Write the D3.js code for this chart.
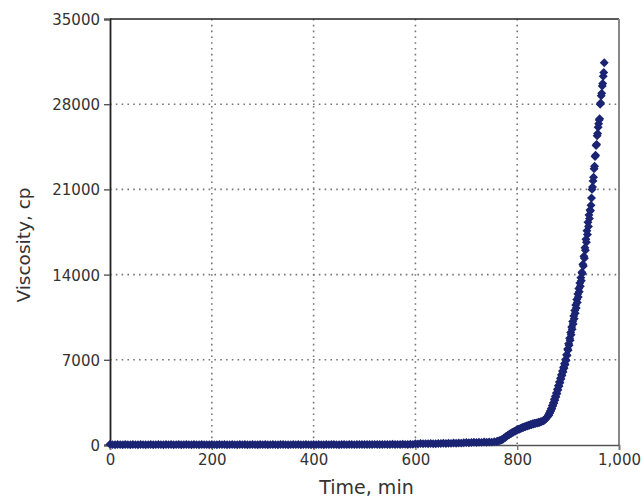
<!DOCTYPE html>
<html>
<head>
<meta charset="utf-8">
<script src="https://cdnjs.cloudflare.com/ajax/libs/d3/7.8.5/d3.min.js"></script>
<style>
  html, body { margin: 0; padding: 0; background: #fff; }
  svg { display: block; }
  text { font-family: "DejaVu Sans", Verdana, sans-serif; }
</style>
</head>
<body>
<svg id="chart" width="642" height="499"></svg>
<script>
// Cure test: viscosity (cp) logged against elapsed time (min)
const timeMin = [
  0,5,10,15,20,25,30,35,40,45,50,55,60,65,70,75,80,85,90,95,
  100,105,110,115,120,125,130,135,140,145,150,155,160,165,170,175,180,185,190,195,
  200,205,210,215,220,225,230,235,240,245,250,255,260,265,270,275,280,285,290,295,
  300,305,310,315,320,325,330,335,340,345,350,355,360,365,370,375,380,385,390,395,
  400,405,410,415,420,425,430,435,440,445,450,455,460,465,470,475,480,485,490,495,
  500,505,510,515,520,525,530,535,540,545,550,555,560,565,570,575,580,585,590,595,
  600,605,610,615,620,625,630,635,640,645,650,655,660,665,670,675,680,685,690,695,
  700,705,710,715,720,725,730,735,740,745,750,755,760,
  762,764,766,768,770,772,774,776,778,780,782,784,786,788,790,792,794,796,798,800,
  802,804,806,808,810,812,814,816,818,820,822,824,826,828,830,832,834,836,838,840,
  842,844,846,848,850,852,854,856,858,860,
  861,862,863,864,865,866,867,868,869,870,871,872,873,874,875,876,877,878,879,880,
  881,882,883,884,885,886,887,888,889,890,891,892,893,894,895,896,897,898,899,900,
  901,902,903,904,905,906,907,908,909,910,911,912,913,914,915,916,917,918,919,920,
  921,922,923,924,925,926,927,928,929,930,931,932,933,934,935,936,937,938,939,940,
  941,942,943,944,945,946,947,948,949,950,951,952,953,954,955,956,957,958,959,960,
  961,962,963,964,965,966,967,968,969,970,971
];

const viscosityCp = [
  60,30,25,35,30,20,35,30,25,40,30,25,35,30,20,30,35,25,30,40,
  30,25,35,30,40,25,30,35,20,30,35,30,25,40,30,25,35,30,30,25,
  35,30,25,40,30,35,25,30,35,30,20,35,30,40,25,30,35,30,25,35,
  30,40,25,30,35,30,25,35,40,30,25,30,35,30,40,25,30,35,30,25,
  35,30,40,30,25,35,30,40,35,30,25,40,35,30,45,35,30,40,35,45,
  40,35,45,40,50,35,45,40,50,45,40,55,45,50,40,55,50,45,55,50,
  110,90,120,100,115,95,125,110,105,130,120,140,125,150,135,160,145,170,155,180,
  200,185,210,220,205,230,215,240,225,250,235,260,280,
  320,330,380,390,450,480,570,600,700,730,820,840,930,940,1030,1040,1120,1130,1210,1230,
  1290,1290,1360,1370,1440,1440,1510,1500,1570,1560,1630,1620,1690,1670,1740,1720,1780,1760,1820,1810,
  1870,1850,1910,1920,1980,2000,2080,2130,2250,2350,
  2450,2450,2600,2620,2800,2800,3000,2980,3250,3200,3480,3430,3750,3680,4000,3940,4280,4210,4580,4520,
  4880,4820,5180,5110,5480,5420,5780,5700,6080,6000,6380,6300,6700,6600,7020,6950,7420,7350,7880,7780,
  8320,8200,8780,8600,9250,9050,9700,9500,10150,9950,10600,10380,11050,10820,11500,11250,11950,11700,12400,12150,
  12850,12600,13300,13050,13750,13500,14200,14100,14850,14700,15500,15350,16200,16000,16900,16650,17600,17300,18300,17950,
  18900,18600,19300,19250,19700,20300,21000,21200,21700,22000,22700,22900,23700,23800,24600,24700,25400,25600,26100,26400,
  26700,26800,28000,28100,28700,28900,29500,29700,30300,30600,31400
];

const xTickValues = [0, 200, 400, 600, 800, 1000];
const yTickValues = [0, 7000, 14000, 21000, 28000, 35000];

const margin = { top: 19, right: 23, bottom: 54, left: 110 };
const W = 642, H = 499;
const innerW = W - margin.left - margin.right;
const innerH = H - margin.top - margin.bottom;

const svg = d3.select("#chart");
const g = svg.append("g").attr("transform", `translate(${margin.left},${margin.top})`);

const x = d3.scaleLinear().domain([0, 1000]).range([0, innerW]);
const y = d3.scaleLinear().domain([0, 35000]).range([innerH, 0]);

// dotted grid
g.append("g").selectAll("line")
  .data(xTickValues.slice(1, -1))
  .join("line")
  .attr("x1", d => x(d)).attr("x2", d => x(d))
  .attr("y1", 0).attr("y2", innerH)
  .attr("stroke", "#777").attr("stroke-width", 1.6)
  .attr("stroke-dasharray", "1.6,4.2");

g.append("g").selectAll("line")
  .data(yTickValues.slice(1, -1))
  .join("line")
  .attr("x1", 0).attr("x2", innerW)
  .attr("y1", d => y(d)).attr("y2", d => y(d))
  .attr("stroke", "#777").attr("stroke-width", 1.6)
  .attr("stroke-dasharray", "1.6,4.2");

// frame: top and right edges
g.append("line").attr("x1", 0).attr("x2", innerW).attr("y1", 0).attr("y2", 0)
  .attr("stroke", "#222").attr("stroke-width", 1.6);
g.append("line").attr("x1", innerW).attr("x2", innerW).attr("y1", 0).attr("y2", innerH)
  .attr("stroke", "#888").attr("stroke-width", 2);

// axes
const xAxis = d3.axisBottom(x).tickValues(xTickValues).tickFormat(d3.format(",")).tickSizeOuter(0).tickSize(5).tickPadding(4);
const yAxis = d3.axisLeft(y).tickValues(yTickValues).tickFormat(d3.format("d")).tickSizeOuter(0).tickSize(6).tickPadding(4);

const gx = g.append("g").attr("transform", `translate(0,${innerH})`).call(xAxis);
gx.select(".domain").attr("stroke", "#555").attr("stroke-width", 1.6);
gx.selectAll(".tick line").attr("stroke", "#777").attr("stroke-width", 1.4);
gx.selectAll(".tick text").attr("font-size", 15).attr("fill", "#333");

const gy = g.append("g").call(yAxis);
gy.select(".domain").attr("stroke", "#222").attr("stroke-width", 1.8);
gy.selectAll(".tick line").attr("stroke", "#555").attr("stroke-width", 1.4);
gy.selectAll(".tick text").attr("font-size", 15).attr("fill", "#333").attr("dy", "0.36em");

// square-on-point diamond marker
const diamond = {
  draw(ctx, size) {
    const r = Math.sqrt(size / 2);
    ctx.moveTo(0, -r); ctx.lineTo(r, 0); ctx.lineTo(0, r); ctx.lineTo(-r, 0); ctx.closePath();
  }
};
const symbolPath = d3.symbol().type(diamond).size(40)();

const points = timeMin.map((t, i) => ({ t, v: viscosityCp[i] }));
g.append("g").selectAll("path")
  .data(points)
  .join("path")
  .attr("d", symbolPath)
  .attr("transform", d => `translate(${x(d.t)},${y(d.v)})`)
  .attr("fill", "#1b2473");

// axis titles
svg.append("text")
  .attr("x", margin.left + innerW / 2 + 2).attr("y", 494)
  .attr("text-anchor", "middle").attr("font-size", 19).attr("fill", "#333")
  .text("Time, min");

svg.append("text")
  .attr("transform", `translate(30,${margin.top + innerH / 2 + 13}) rotate(-90)`)
  .attr("text-anchor", "middle").attr("font-size", 18.5).attr("fill", "#333")
  .text("Viscosity, cp");
</script>
</body>
</html>
